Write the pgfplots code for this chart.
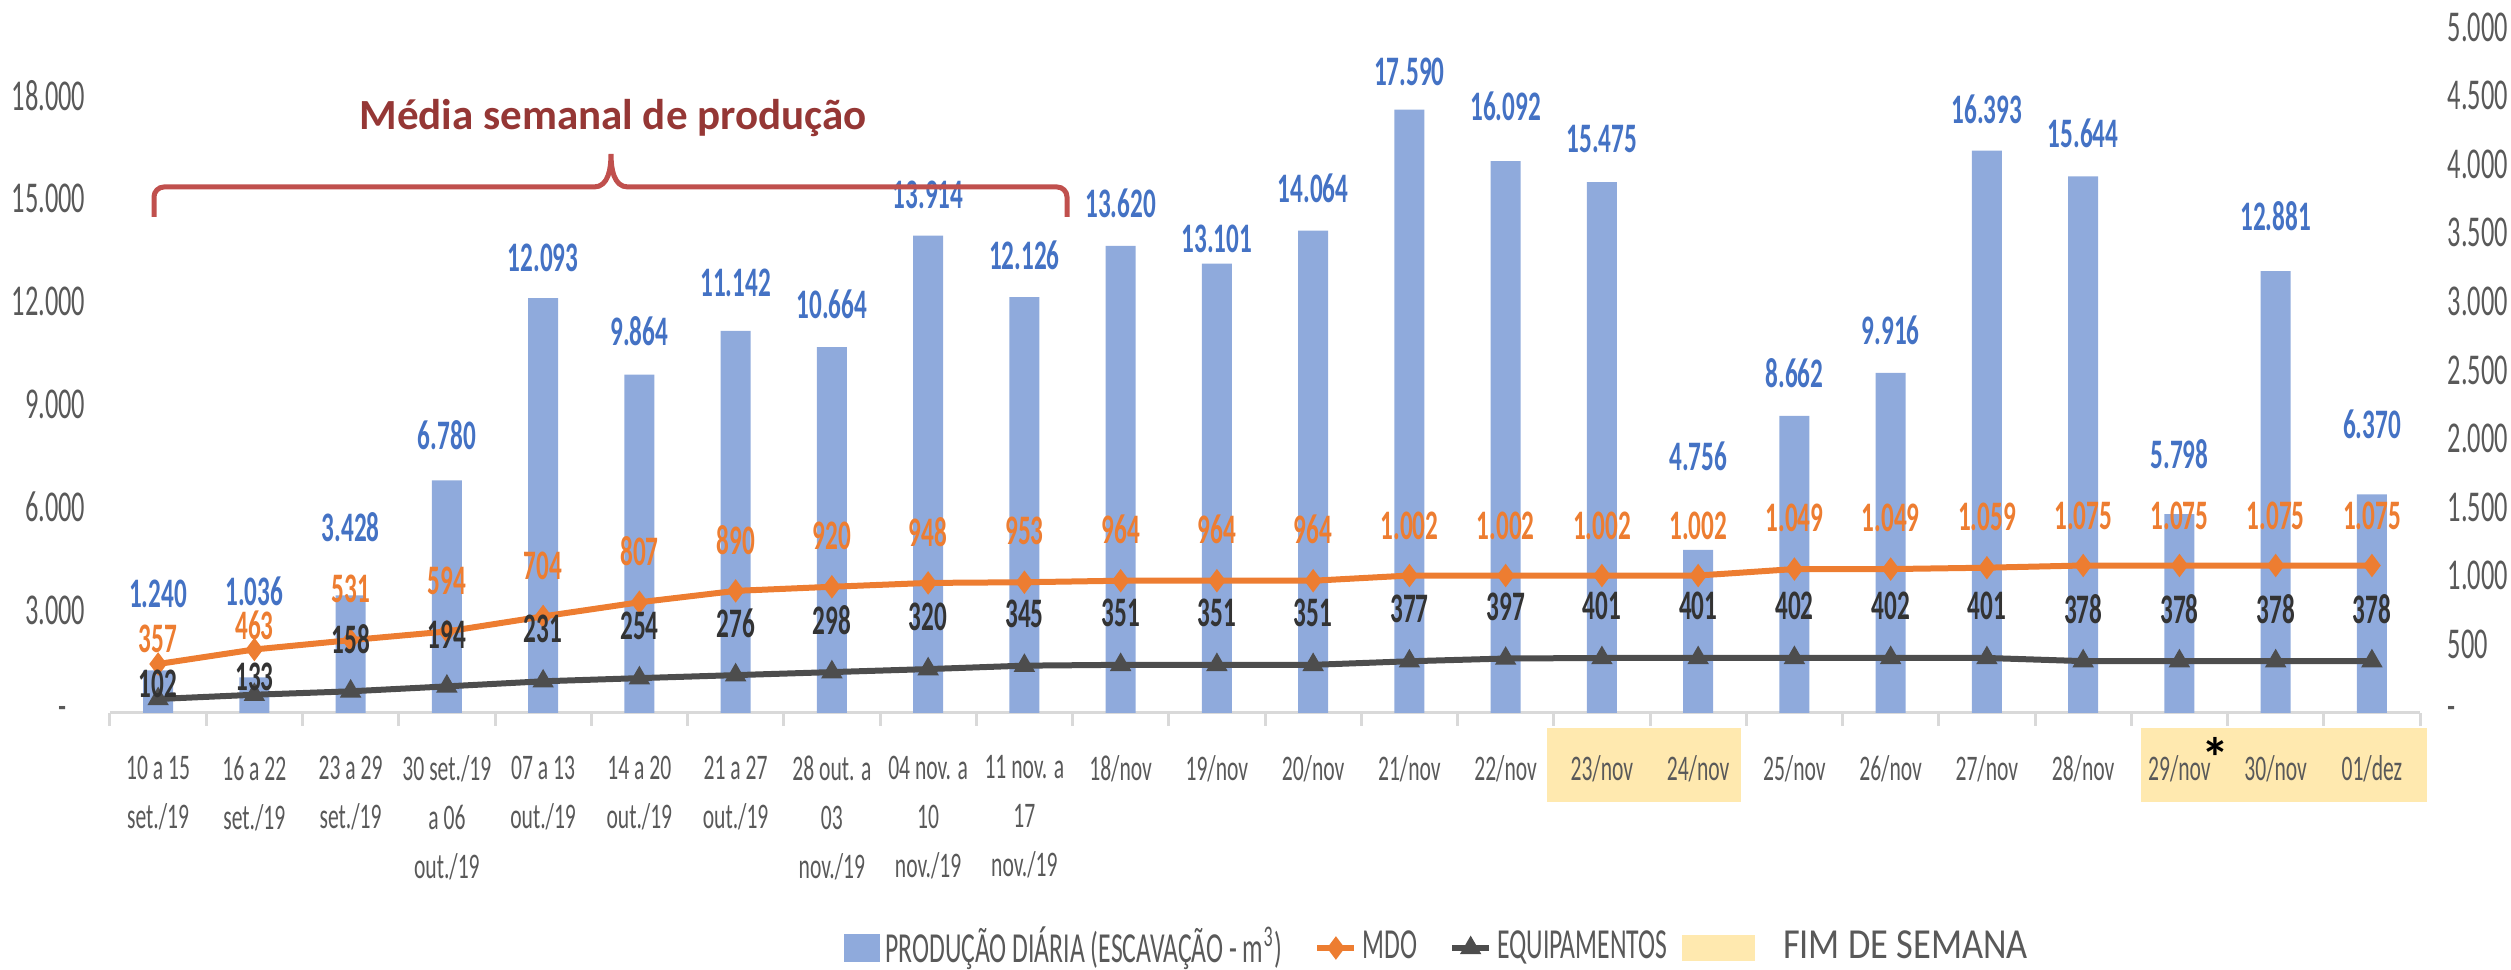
\documentclass[border=0pt]{standalone}
\usepackage{fontspec}
\setmainfont{Carlito}[FakeStretch=0.6]
\newfontfamily\titlefont{Carlito}
\newfontfamily\fimfont{Carlito}[FakeStretch=0.85]
\usepackage{pgfplots}
\usepackage{pgfplotstable}
\pgfplotsset{compat=1.18}
\definecolor{barfill}{HTML}{8FAADC}
\definecolor{barlabel}{HTML}{4472C4}
\definecolor{mdo}{HTML}{ED7D31}
\definecolor{equip}{HTML}{4D4D4D}
\definecolor{equiplabel}{HTML}{333333}
\definecolor{tickgray}{HTML}{595959}
\definecolor{axisgray}{HTML}{D9D9D9}
\definecolor{weekend}{HTML}{FFE9AF}
\definecolor{bracecol}{HTML}{C0504D}
\definecolor{titlecol}{HTML}{953735}

\pgfplotstableread{
x y dy
0 1240 19.25
1 1036 21.5
2 3428 17
3 6780 11.25
4 12093 10
5 9864 10.75
6 11142 12
7 10664 10.75
8 13914 10.25
9 12126 10.5
10 13620 10.75
11 13101 6.25
12 14064 10.5
13 17590 9.5
14 16092 13.75
15 15475 10.75
16 4756 23.5
17 8662 10.75
18 9916 10.75
19 16393 10.25
20 15644 10.75
21 5798 15
22 12881 13.75
23 6370 17.5
}\bardata

\pgfplotstableread{
x y dy
0 357 6.25
1 463 6
2 531 12.75
3 594 12.75
4 704 12.75
5 807 12.75
6 890 12.75
7 920 12.75
8 948 12.75
9 953 12.75
10 964 12.75
11 964 12.75
12 964 12.75
13 1002 12.5
14 1002 12.5
15 1002 12.5
16 1002 12.5
17 1049 12.75
18 1049 12.75
19 1059 12.75
20 1075 12.5
21 1075 12.5
22 1075 12.5
23 1075 12.5
}\mdodata

\pgfplotstableread{
x y dy
0 102 3.75
1 133 4.5
2 158 13
3 194 13
4 231 13
5 254 13
6 276 13
7 298 13
8 320 13
9 345 13
10 351 13
11 351 13
12 351 13
13 377 13
14 397 13
15 401 13
16 401 13
17 402 13
18 402 13
19 401 13
20 378 13
21 378 13
22 378 13
23 378 13
}\eqdata

\pgfplotsset{
  common/.style={
    at={(0,0)}, anchor=south west, scale only axis,
    width=577.5pt, height=171.5pt,
    xmin=-0.5, xmax=23.5, clip=false,
    scaled y ticks=false, scaled x ticks=false,
    /pgf/number format/1000 sep={.},
    /pgf/number format/fixed,
    /pgf/number format/precision=0,
    /pgf/number format/assume math mode=true,
  },
  shortline/.style={legend image code/.code={\draw[mark repeat=2,mark phase=2,##1] plot coordinates {(0pt,0pt) (4.625pt,0pt) (9.25pt,0pt)};}},
  barswatch/.style={legend image code/.code={\fill[barfill] (0pt,-3.375pt) rectangle (8.75pt,3.375pt);}},
  weekendswatch/.style={legend image code/.code={\fill[weekend] (0pt,-3pt) rectangle (17.75pt,3pt);}},
}

\begin{document}
\begin{tikzpicture}
\path[use as bounding box] (-27.5pt,-64.25pt) rectangle (600.25pt,178.25pt);
\fill[weekend] (359.25pt,-3.75pt) rectangle (407.75pt,-22.25pt);
\fill[weekend] (507.75pt,-3.75pt) rectangle (579.25pt,-22.25pt);

\begin{axis}[common,
  ymin=0, ymax=20000,
  axis x line*=bottom, axis y line*=left,
  y axis line style={draw=none},
  x axis line style={draw=axisgray, line width=0.75pt, -},
  xtick={0,1,...,23},
  xticklabels={{10 a 15\\set./19},{16 a 22\\set./19},{23 a 29\\set./19},{30 set./19\\a 06\\out./19},{07 a 13\\out./19},{14 a 20\\out./19},{21 a 27\\out./19},{28 out. a\\03\\nov./19},{04 nov. a\\10\\nov./19},{11 nov. a\\17\\nov./19},18/nov,19/nov,20/nov,21/nov,22/nov,23/nov,24/nov,25/nov,26/nov,27/nov,28/nov,29/nov,30/nov,01/dez},
  minor xtick={-0.5,0.5,1.5,2.5,3.5,4.5,5.5,6.5,7.5,8.5,9.5,10.5,11.5,12.5,13.5,14.5,15.5,16.5,17.5,18.5,19.5,20.5,21.5,22.5,23.5},
  tick align=outside, major tick length=0pt, minor tick length=3.25pt,
  minor tick style={draw=axisgray, line width=0.75pt},
  major tick style={draw=none},
  ytick={0,3000,6000,9000,12000,15000,18000},
  yticklabels={{-\hspace*{4.75pt}},3.000,6.000,9.000,12.000,15.000,18.000},
  yticklabel style={font=\fontsize{11}{13}\selectfont, text=tickgray, inner sep=0pt, anchor=east, xshift=-6pt},
  xticklabel style={font=\fontsize{9}{12.25}\selectfont, text=tickgray, align=center, inner sep=0pt, anchor=north, yshift=-10.5pt},
]
\addplot[ybar, bar width=7.5pt, bar shift=0pt, fill=barfill, draw=none,
  point meta=y,
  nodes near coords={\pgfmathprintnumber{\pgfplotspointmeta}},
  visualization depends on={\thisrow{dy}\as\dy},
  every node near coord/.append style={anchor=center, yshift=\dy*1pt, font=\fontsize{10.5}{12}\selectfont\bfseries, text=barlabel, inner sep=0pt},
] table[x=x,y=y] {\bardata};
\end{axis}

\begin{axis}[common,
  ymin=0, ymax=5000,
  axis x line=none, axis y line*=right,
  y axis line style={draw=none},
  xtick=\empty,
  major tick length=0pt,
  ytick={0,500,1000,1500,2000,2500,3000,3500,4000,4500,5000},
  yticklabels={-,500,1.000,1.500,2.000,2.500,3.000,3.500,4.000,4.500,5.000},
  yticklabel style={font=\fontsize{11}{13}\selectfont, text=tickgray, inner sep=0pt, anchor=west, xshift=6.75pt},
  legend columns=4,
  legend style={at={(0.3173,-0.3426)}, anchor=west, draw=none, fill=none, inner sep=0pt,
    font=\fontsize{10.7}{13}\selectfont, text=tickgray, nodes={inner sep=0pt},
    /tikz/every odd column/.append style={column sep=1.25pt},
    /tikz/column 2/.append style={column sep=8pt},
    /tikz/column 4/.append style={column sep=8pt},
    /tikz/column 6/.append style={column sep=3.75pt}},
]
\addplot[mdo, line width=1.5pt, mark=diamond*, mark size=1.7pt, forget plot,
  point meta=y,
  nodes near coords={\pgfmathprintnumber{\pgfplotspointmeta}},
  visualization depends on={\thisrow{dy}\as\dy},
  every node near coord/.append style={anchor=center, yshift=\dy*1pt, font=\fontsize{10.5}{12}\selectfont\bfseries, text=mdo, inner sep=0pt},
] table[x=x,y=y] {\mdodata};

\addplot[equip, line width=1.5pt, mark=triangle*, mark size=1.6pt, forget plot,
  point meta=y,
  nodes near coords={\pgfmathprintnumber{\pgfplotspointmeta}},
  visualization depends on={\thisrow{dy}\as\dy},
  every node near coord/.append style={anchor=center, yshift=\dy*1pt, font=\fontsize{10.5}{12}\selectfont\bfseries, text=equiplabel, inner sep=0pt},
] table[x=x,y=y] {\eqdata};

\addlegendimage{barswatch}
\addlegendentry{PRODUÇÃO DIÁRIA (ESCAVAÇÃO - m\textsuperscript{3})}
\addlegendimage{mdo, line width=1.5pt, mark=diamond*, mark size=1.7pt, shortline}
\addlegendentry{MDO}
\addlegendimage{equip, line width=1.5pt, mark=triangle*, mark size=1.6pt, shortline}
\addlegendentry{EQUIPAMENTOS}
\addlegendimage{weekendswatch}
\addlegendentry{\fimfont\hspace*{5.75pt}FIM DE SEMANA}
\end{axis}

\draw[bracecol, line width=1.25pt] (11pt,124pt) -- (11pt,129pt) to[out=90,in=180] (13.5pt,131.5pt) -- (121pt,131.5pt) to[out=0,in=-90] (125.25pt,139.75pt) to[out=-90,in=180] (129.5pt,131.5pt) -- (236.75pt,131.5pt) to[out=0,in=90] (239.25pt,129pt) -- (239.25pt,124pt);
\node[text=titlecol, font={\titlefont\fontsize{10.75}{12}\selectfont\bfseries}] at (125.75pt,148.75pt) {Média semanal de produção};
\node[font={\titlefont\fontsize{14}{14}\selectfont\bfseries}, inner sep=0pt] at (526.25pt,-11pt) {*};
\end{tikzpicture}
\end{document}
